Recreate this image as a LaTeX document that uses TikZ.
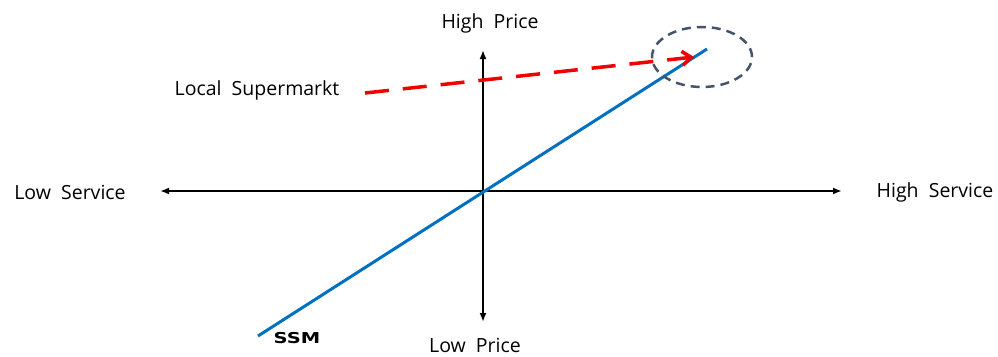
\documentclass[tikz,border=0pt]{standalone}
\usepackage{fontspec}
\setmainfont{Open Sans}
\newfontfamily\ssmfont{DejaVu Sans}
\usetikzlibrary{arrows.meta,shapes.geometric}
\definecolor{blueline}{RGB}{0,112,192}
\definecolor{circ}{RGB}{68,84,106}
\definecolor{redarr}{RGB}{240,0,0}
\begin{document}
\begin{tikzpicture}[x=1pt,y=-1pt,
  lbl/.style={font=\fontsize{19.5}{22}\selectfont, inner sep=0pt},
  axis/.style={line width=1.8pt, {Latex[length=9pt,width=7pt]}-{Latex[length=9pt,width=7pt]}}]
\useasboundingbox (0,0) rectangle (998,356);
\coordinate (L) at (160,191);
\coordinate (R) at (842,191);
\coordinate (T) at (483,50);
\coordinate (B) at (483,322);
\coordinate (s1) at (258,336);
\coordinate (s2) at (707,49);
\coordinate (r1) at (365,93);
\coordinate (r2) at (694,57);
\draw[axis] (L) -- (R);
\draw[axis] (B) -- (T);
\draw[blueline, line width=3pt] (s1) -- (s2);
\draw[redarr, line width=3.5pt, dash pattern=on 24pt off 14pt, -{Straight Barb[length=9pt,width=14pt]}] (r1) -- (r2);
\node[draw=circ, line width=2.5pt, dash pattern=on 9pt off 6pt, ellipse, minimum width=100pt, minimum height=60pt, inner sep=0pt] (circle) at (702,57) {};
\node[lbl] (hp) at (490,23) {High\ \ Price};
\node[lbl] (lp) at (475,345) {Low\ \ Price};
\node[lbl] (ls) at (70,192) {Low\ \ Service};
\node[lbl] (hs) at (935,192) {High\ \ Service};
\node[lbl] (loc) at (257,90) {Local\ \ Supermarkt};
\node[font=\fontsize{15}{16}\selectfont\ssmfont\bfseries, inner sep=0pt, xscale=1.3] (ssm) at (297,338) {SSM};
\end{tikzpicture}
\end{document}
